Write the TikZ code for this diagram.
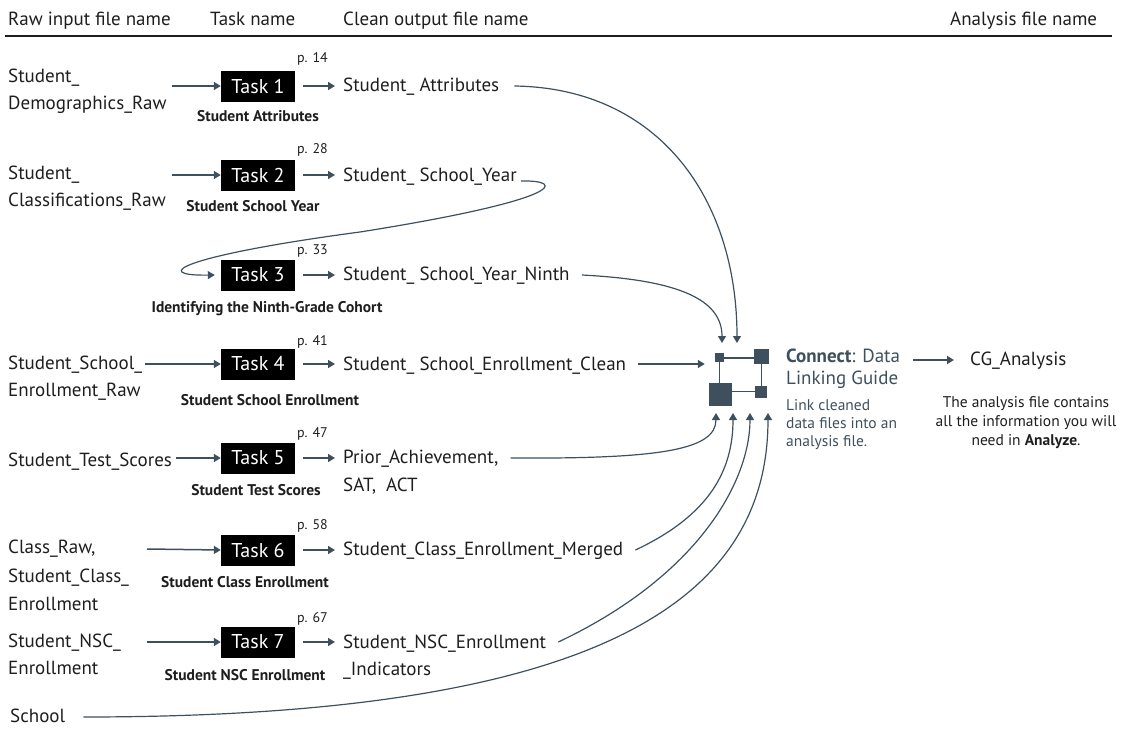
\documentclass[tikz,border=0pt]{standalone}
\usepackage{fontspec}
\setmainfont{PT Sans}
\usetikzlibrary{arrows.meta}
\definecolor{slate}{HTML}{3E505D}
\definecolor{ink}{HTML}{1E1E1E}
\begin{document}
\begin{tikzpicture}[x=1pt,y=-1pt,
  txt/.style={font=\fontsize{19}{22}\selectfont, inner sep=0pt, anchor=mid west, text=ink, yshift=-3pt},
  pg/.style={font=\fontsize{14}{16}\selectfont, inner sep=0pt, anchor=mid west, text=ink, yshift=-3pt},
  lbl/.style={font=\bfseries\fontsize{15.5}{18}\selectfont, inner sep=0pt, anchor=mid, text=ink, yshift=-3pt},
  task/.style={fill=black, text=white, font=\fontsize{20}{22}\selectfont, minimum width=74pt, minimum height=31pt, inner sep=0pt},
  arr/.style={draw=slate, line width=1.5pt, -{Triangle[length=7pt,width=8pt]}},
  conn/.style={draw=slate, line width=1.2pt, -{Triangle[length=7pt,width=8pt]}},
  sq/.style={fill=slate, inner sep=0pt},
  ctxt/.style={inner sep=0pt, anchor=north west, text=slate, align=left}
]
\useasboundingbox (0,0) rectangle (1128,747);

% header
\node[txt] (h1) at (8,20) {Raw input file name};
\node[txt] (h2) at (210,20) {Task name};
\node[txt] (h3) at (343,20) {Clean output file name};
\node[txt] (h4) at (950,20) {Analysis file name};
\draw[line width=1.2pt, ink] (5,36) -- (1112,36);

% tasks
\node[task] (t1) at (258,86) {Task 1};
\node[task] (t2) at (258,175) {Task 2};
\node[task] (t3) at (258,275) {Task 3};
\node[task] (t4) at (258,364) {Task 4};
\node[task] (t5) at (258,458) {Task 5};
\node[task] (t6) at (258,550) {Task 6};
\node[task] (t7) at (258,642) {Task 7};

% page refs
\node[pg] (p1) at (297,57) {p. 14};
\node[pg] (p2) at (297,148) {p. 28};
\node[pg] (p3) at (297,249) {p. 33};
\node[pg] (p4) at (297,340) {p. 41};
\node[pg] (p5) at (297,432) {p. 47};
\node[pg] (p6) at (297,524) {p. 58};
\node[pg] (p7) at (297,617) {p. 67};

% task labels
\node[lbl] (l1) at (258,116) {Student Attributes};
\node[lbl] (l2) at (253,206) {Student School Year};
\node[lbl] (l3) at (267,307) {Identifying the Ninth-Grade Cohort};
\node[lbl] (l4) at (270,400) {Student School Enrollment};
\node[lbl] (l5) at (256,490) {Student Test Scores};
\node[lbl] (l6) at (245,582) {Student Class Enrollment};
\node[lbl] (l7) at (245,675) {Student NSC Enrollment};

% inputs
\node[txt] (i1a) at (8,77) {Student\_};
\node[txt] (i1b) at (8,104) {Demographics\_Raw};
\node[txt] (i2a) at (8,174) {Student\_};
\node[txt] (i2b) at (8,201) {Classifications\_Raw};
\node[txt] (i4a) at (8,364) {Student\_School\_};
\node[txt] (i4b) at (8,391) {Enrollment\_Raw};
\node[txt] (i5) at (8,461) {Student\_Test\_Scores};
\node[txt] (i6a) at (8,548) {Class\_Raw,};
\node[txt] (i6b) at (8,577) {Student\_Class\_};
\node[txt] (i6c) at (8,605) {Enrollment};
\node[txt] (i7a) at (8,642) {Student\_NSC\_};
\node[txt] (i7b) at (8,669) {Enrollment};
\node[txt] (i8) at (10,717) {School};

% outputs
\node[txt] (o1) at (343,86) {Student\_ Attributes};
\node[txt] (o2) at (343,176) {Student\_ School\_Year};
\node[txt] (o3) at (343,275) {Student\_ School\_Year\_Ninth};
\node[txt] (o4) at (343,365) {Student\_ School\_Enrollment\_Clean};
\node[txt] (o5a) at (343,458) {Prior\_Achievement,};
\node[txt] (o5b) at (343,486) {SAT,\ \ ACT};
\node[txt] (o6) at (343,550) {Student\_Class\_Enrollment\_Merged};
\node[txt] (o7a) at (343,643) {Student\_NSC\_Enrollment};
\node[txt] (o7b) at (343,670) {\_Indicators};

% input arrows
\coordinate (s1) at (172,86);
\coordinate (s2) at (172,175);
\coordinate (s4) at (145,364);
\coordinate (s6) at (147,549);
\coordinate (s7) at (147,642);
\draw[arr] (s1) -- (t1.west);
\draw[arr] (s2) -- (t2.west);
\draw[arr] (s4) -- (t4.west);
\draw[arr] ([xshift=4pt]i5.east |- t5.west) -- (t5.west);
\draw[arr] (s6) -- (t6.west);
\draw[arr] (s7) -- (t7.west);

% output arrows
\foreach \k in {1,2,3,4,6} {\draw[arr] ([xshift=8pt]t\k.east) -- ([xshift=-8pt]t\k.east -| o\k.west);}
\draw[arr] ([xshift=8pt]t5.east) -- ([xshift=-8pt]t5.east -| o5a.west);
\draw[arr] ([xshift=8pt]t7.east) -- ([xshift=-8pt]t7.east -| o7a.west);

% icon frame
\coordinate (fa) at (719.5,358);
\coordinate (fb) at (761.5,358);
\coordinate (fc) at (761.5,391.5);
\coordinate (fd) at (719.5,391.5);
\draw[slate, line width=1.2pt] (fa) -- (fb) -- (fc) -- (fd) -- cycle;
\node[sq, minimum size=9pt] (q1) at (719,357.5) {};
\node[sq, minimum size=15pt] (q2) at (761.5,356.5) {};
\node[sq, minimum size=23pt] (q3) at (720.5,394) {};
\node[sq, minimum size=12pt] (q4) at (761,391.5) {};

% connector end points
\coordinate (e1) at (737,343);
\coordinate (e3) at (722,343);
\coordinate (e5) at (716,413);
\coordinate (e6) at (733,413);
\coordinate (e7) at (750,413);
\coordinate (e8) at (768,413);

\draw[conn] ([xshift=15pt]o1.east |- t1.east) .. controls (660,88) and (737,200) .. (e1);
\draw[conn] ([xshift=4pt]o2.east |- 0,181) .. controls (568,180) and (562,200) .. (360,232)
   .. controls (180,256) and (150,276) .. ([xshift=-6pt]t3.west);
\draw[conn] ([xshift=12pt]o3.east |- t3.east) .. controls (680,280) and (722,300) .. (e3);
\draw[arr] ([xshift=12pt]o4.east |- t4.east) -- ([xshift=-4pt]q3.west |- t4.east);
\draw[conn] ([xshift=12pt]o5a.east |- t5.east) .. controls (660,459) and (716,450) .. (e5);
\draw[conn] ([xshift=12pt]o6.east |- t6.east) .. controls (710,515) and (733,470) .. (e6);
\draw[conn] ([xshift=12pt]o7a.east |- t7.east) .. controls (700,575) and (750,480) .. (e7);
\draw[conn] ([xshift=18pt]i8.east |- 0,717) .. controls (600,717) and (768,600) .. (e8);

% connect text
\node[ctxt, font=\fontsize{19}{22}\selectfont] (ct) at (786,349) {\textbf{Connect}: Data\\Linking Guide};
\node[ctxt, font=\fontsize{15.5}{18}\selectfont] (cs) at (786,399) {Link cleaned\\data files into an\\analysis file.};
\node[txt] (cg) at (970,360) {CG\_Analysis};
\draw[arr] (913,360) -- ([xshift=-16pt]cg.west |- 0,360);
\node[inner sep=0pt, align=center, text=ink, font=\fontsize{15.5}{19}\selectfont] (cd) at (1026,423)
  {The analysis file contains\\all the information you will\\need in \textbf{Analyze}.};
\end{tikzpicture}
\end{document}
